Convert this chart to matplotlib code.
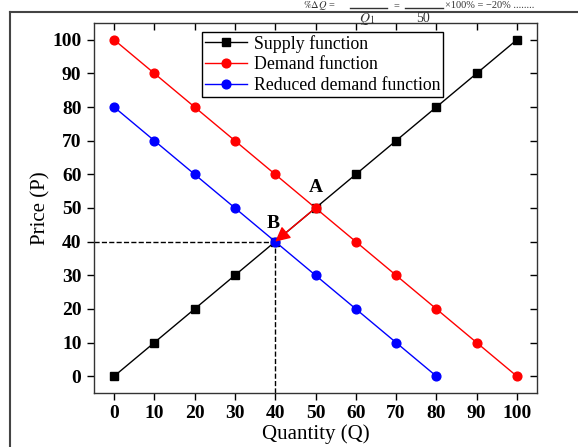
import matplotlib
matplotlib.use("Agg")
import matplotlib.pyplot as plt
from matplotlib.lines import Line2D

# data
quantity = [0, 10, 20, 30, 40, 50, 60, 70, 80, 90, 100]
supply_price = [0, 10, 20, 30, 40, 50, 60, 70, 80, 90, 100]
demand_price = [100, 90, 80, 70, 60, 50, 40, 30, 20, 10, 0]
reduced_q = [0, 10, 20, 30, 40, 50, 60, 70, 80]
reduced_price = [80, 70, 60, 50, 40, 30, 20, 10, 0]
point_a = (50, 50)
point_b = (40, 40)
ticks = [0, 10, 20, 30, 40, 50, 60, 70, 80, 90, 100]

plt.rcParams["font.family"] = ["Liberation Serif", "DejaVu Serif"]
plt.rcParams["mathtext.fontset"] = "stix"

W, H = 578, 447
fig = plt.figure(figsize=(W / 100, H / 100), dpi=100)
ax = fig.add_axes([94 / W, 1 - 393 / H, (537 - 94) / W, (393 - 23) / H])

ax.plot(quantity, supply_price, "-", color="black", marker="s", markersize=6,
        linewidth=1.0, label="Supply function", zorder=3)
ax.plot(quantity, demand_price, "-", color="red", marker="o", markersize=6.3,
        linewidth=1.0, label="Demand function", zorder=3)
ax.plot(reduced_q, reduced_price, "-", color="blue", marker="o", markersize=6.3,
        linewidth=1.0, label="Reduced demand function", zorder=3)

# dashed guides to B
ax.plot([-5, point_b[0]], [point_b[1], point_b[1]], "--", color="black", lw=1.0, zorder=2)
ax.plot([point_b[0], point_b[0]], [-5, point_b[1]], "--", color="black", lw=1.0, zorder=2)

ax.annotate("", xy=point_b, xytext=point_a,
            arrowprops=dict(arrowstyle="-|>,head_length=0.9,head_width=0.45",
                            color="red", lw=1.0, shrinkA=0, shrinkB=0),
            zorder=4)
ax.text(point_a[0], point_a[1] + 6, "A", fontsize=14, fontweight="bold",
        ha="center", va="center")
ax.text(point_b[0] - 0.4, point_b[1] + 5.5, "B", fontsize=14, fontweight="bold",
        ha="center", va="center")

ax.set_xlim(-5, 105)
ax.set_ylim(-5, 105)
ax.set_xticks(ticks)
ax.set_yticks(ticks)
ax.tick_params(axis="both", which="major", direction="out", length=5, width=1,
               labelsize=14, pad=4)
ax.tick_params(top=True, right=True)
for lbl in ax.get_xticklabels() + ax.get_yticklabels():
    lbl.set_fontweight("bold")
# top/right ticks point inward
for t in ax.xaxis.get_major_ticks():
    t.tick2line.set_marker(3)
for t in ax.yaxis.get_major_ticks():
    t.tick2line.set_marker(0)
ax.set_xlabel("Quantity (Q)", fontsize=15, labelpad=1)
ax.set_ylabel("Price (P)", fontsize=15, labelpad=1)
for s in ax.spines.values():
    s.set_linewidth(1.0)
    s.set_color("#333333")

leg = ax.legend(loc="upper left", bbox_to_anchor=(202 / W, 1 - 32 / H),
                bbox_transform=fig.transFigure, borderaxespad=0, fontsize=12.8,
                frameon=True, fancybox=False, edgecolor="black", framealpha=1,
                handlelength=2.4, handletextpad=0.35, borderpad=0.15,
                labelspacing=0.22)
leg.get_frame().set_linewidth(1.0)

# page frame and formula from the source document
fig.add_artist(Line2D([10 / W, 1], [1 - 12 / H] * 2, color="#444444", lw=1.5,
                      transform=fig.transFigure))
fig.add_artist(Line2D([10 / W, 10 / W], [0, 1 - 12 / H], color="#444444", lw=1.5,
                      transform=fig.transFigure))
fy = 1 - 6 / H
fig.text(303 / W, fy, r"$\%\Delta Q$ =", fontsize=7.5, ha="left", va="center",
         color="#333333")
fig.add_artist(Line2D([350 / W, 387 / W], [1 - 8 / H] * 2, color="#333333", lw=1.0,
                      transform=fig.transFigure))
fig.add_artist(Line2D([405 / W, 443 / W], [1 - 8 / H] * 2, color="#333333", lw=1.0,
                      transform=fig.transFigure))
fig.text(396 / W, fy, "=", fontsize=7.5, ha="center", va="center", color="#333333")
fig.text(445 / W, fy, "×100% = −20% ........", fontsize=7.5, ha="left",
         va="center", color="#333333")
fig.text(367 / W, 1 - 19 / H, r"$Q_{1}$", fontsize=10, ha="center", va="center",
         color="#333333")
fig.text(423 / W, 1 - 18 / H, "50", fontsize=10, ha="center", va="center",
         color="#333333")

fig.savefig("out.png", dpi=100)
